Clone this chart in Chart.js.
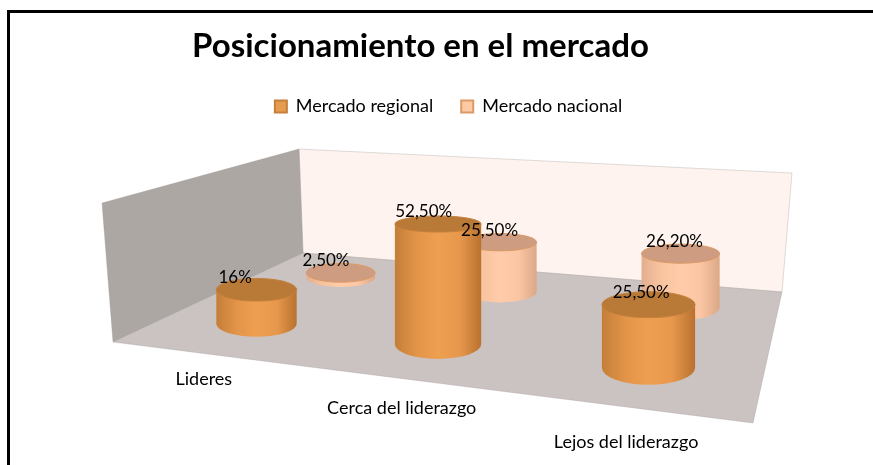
<!DOCTYPE html>
<html>
<head>
<meta charset="utf-8">
<title>Posicionamiento en el mercado</title>
<script src="https://cdn.jsdelivr.net/npm/chart.js@4"></script>
<style>
    html, body { margin: 0; padding: 0; background: #fff; }
    #frame { position: absolute; left: 7px; top: 10px; width: 866px; height: 455px; box-sizing: border-box;
             border-top: 3px solid #000; border-left: 3px solid #000; }
    #chart { position: absolute; left: 0; top: 0; }
</style>
</head>
<body>
<div id="frame"></div>
<canvas id="chart" width="873" height="465"></canvas>
<script>
const categories = ['Lideres', 'Cerca del liderazgo', 'Lejos del liderazgo'];
const regional = [16, 52.5, 25.5];
const nacional = [2.5, 25.5, 26.2];
const regionalLabels = ['16%', '52,50%', '25,50%'];
const nacionalLabels = ['2,50%', '25,50%', '26,20%'];

// The 3D box, screen corners
const leftWall = [[102, 203], [299, 149], [303, 253], [113, 342]];
const backWall = [[299, 149], [792, 173], [782, 292], [303, 253]];
const floor = [[113, 342], [753, 423], [782, 292], [303, 253]]; // front-left, front-right, back-right, back-left

const FONT = 'Lato, "Open Sans", sans-serif';
const HEIGHT_K = 0.405;     // chart units to floor scale
const RADIUS_DEPTH = 0.12;  // cylinder radius along the floor depth
const U_SHIFT = 0.006;
const LABEL_DEPTH = -0.19;
const labelShift = [52, 44, 23];

// Perspective mapping of the floor (unit square to quad)
function makeFloorMap(q) {
    const [[x0, y0], [x1, y1], [x2, y2], [x3, y3]] = q;
    const dx1 = x1 - x2, dx2 = x3 - x2, sx = x0 - x1 + x2 - x3;
    const dy1 = y1 - y2, dy2 = y3 - y2, sy = y0 - y1 + y2 - y3;
    const det = dx1 * dy2 - dx2 * dy1;
    const g = (sx * dy2 - dx2 * sy) / det;
    const h = (dx1 * sy - sx * dy1) / det;
    const a = x1 - x0 + g * x1, b = x3 - x0 + h * x3;
    const d = y1 - y0 + g * y1, e = y3 - y0 + h * y3;
    return (u, v) => {
        const w = g * u + h * v + 1;
        return { x: (a * u + b * v + x0) / w, y: (d * u + e * v + y0) / w, scale: 1 / w };
    };
}
const floorMap = makeFloorMap(floor);

function cylinderShape(chart, bar, depth) {
    const area = chart.chartArea;
    const u = (bar.x - area.left) / area.width + U_SHIFT;
    const p = floorMap(u, depth);
    const rx = bar.width / 2 * p.scale;
    const ry = (floorMap(u, depth - RADIUS_DEPTH).y - floorMap(u, depth + RADIUS_DEPTH).y) / 2;
    const h = (bar.base - bar.y) * HEIGHT_K * p.scale;
    return { u, x: p.x, baseY: p.y, topY: p.y - h, rx, ry, topRy: ry * (1 - h * 0.0038) };
}

class CylinderController extends Chart.BarController {
    draw() {
        const chart = this.chart, ctx = chart.ctx;
        const ds = this.getDataset();
        this.getMeta().data.forEach(bar => {
            const c = cylinderShape(chart, bar, ds.depth);
            const grad = ctx.createLinearGradient(c.x - c.rx, 0, c.x + c.rx, 0);
            ds.shades.forEach((col, i) => grad.addColorStop(i / (ds.shades.length - 1), col));

            ctx.save();
            ctx.beginPath();
            ctx.moveTo(c.x - c.rx, c.topY);
            ctx.lineTo(c.x - c.rx, c.baseY);
            ctx.ellipse(c.x, c.baseY, c.rx, c.ry, 0, Math.PI, 0, true);
            ctx.lineTo(c.x + c.rx, c.topY);
            ctx.closePath();
            ctx.fillStyle = grad;
            ctx.fill();

            ctx.beginPath();
            ctx.ellipse(c.x, c.topY, c.rx, c.topRy, 0, 0, Math.PI * 2);
            ctx.fillStyle = ds.topColor;
            ctx.fill();
            ctx.strokeStyle = ds.borderColor;
            ctx.lineWidth = 1;
            ctx.stroke();
            ctx.restore();
        });
    }
}
CylinderController.id = 'cylinder';
CylinderController.defaults = Chart.BarController.defaults;
Chart.register(CylinderController);

function fillPoly(ctx, pts, color) {
    ctx.beginPath();
    pts.forEach(([x, y], i) => i ? ctx.lineTo(x, y) : ctx.moveTo(x, y));
    ctx.closePath();
    ctx.fillStyle = color;
    ctx.fill();
    ctx.strokeStyle = 'rgba(150, 145, 142, 0.3)';
    ctx.lineWidth = 1;
    ctx.stroke();
}

const box3d = {
    id: 'box3d',
    afterLayout(chart) {
        // title and legend are not centred on the same line in the original
        chart.titleBlock.left -= 16;
        chart.titleBlock.right -= 16;
        chart.legend.left += 12;
        chart.legend.right += 12;
    },
    beforeDatasetsDraw(chart) {
        const ctx = chart.ctx;
        ctx.save();
        fillPoly(ctx, backWall, '#FEF3EE');
        fillPoly(ctx, leftWall, '#ADA7A4');
        fillPoly(ctx, floor, '#CBC3C2');
        ctx.restore();
    },
    afterDatasetsDraw(chart) {
        const ctx = chart.ctx, area = chart.chartArea, xScale = chart.scales.x;
        ctx.save();
        ctx.fillStyle = '#000';
        ctx.textAlign = 'center';
        ctx.textBaseline = 'middle';

        // value labels, they lean further left towards the left of the floor
        ctx.font = '17px ' + FONT;
        chart.data.datasets.forEach((ds, i) => {
            chart.getDatasetMeta(i).data.forEach((bar, j) => {
                const c = cylinderShape(chart, bar, ds.depth);
                const lean = (1 - c.u) * (25 - 16 * ds.depth) + 4;
                ctx.fillText(ds.valueLabels[j], c.x - lean, c.topY - 12);
            });
        });

        // category labels, along the front of the floor
        ctx.font = '18px ' + FONT;
        categories.forEach((name, j) => {
            const u = (xScale.getPixelForTick(j) - area.left) / area.width;
            const p = floorMap(u, LABEL_DEPTH);
            ctx.fillText(name, p.x + labelShift[j], p.y);
        });
        ctx.restore();
    }
};

new Chart(document.getElementById('chart'), {
    type: 'cylinder',
    data: {
        labels: categories,
        datasets: [{
            label: 'Mercado regional',
            data: regional,
            valueLabels: regionalLabels,
            depth: 0.25,
            grouped: false,
            backgroundColor: '#E69C4E',
            borderColor: '#C4803C',
            borderWidth: 2,
            topColor: '#B97A38',
            shades: ['#C47E38', '#E29448', '#EF9F50', '#E8984C', '#B8722F']
        }, {
            label: 'Mercado nacional',
            data: nacional,
            valueLabels: nacionalLabels,
            depth: 0.75,
            grouped: false,
            backgroundColor: '#FFC9A4',
            borderColor: '#DB9A66',
            borderWidth: 2,
            topColor: '#CE9C80',
            shades: ['#E3AE8E', '#F8C4A0', '#FFCBA8', '#FBC6A4', '#DBA888']
        }]
    },
    options: {
        responsive: false,
        animation: false,
        events: [],
        layout: { padding: { top: 20, bottom: 8 } },
        datasets: { cylinder: { barPercentage: 0.29, categoryPercentage: 1 } },
        scales: {
            x: { type: 'category', display: false, offset: true },
            y: { type: 'linear', display: false, min: 0, max: 60 }
        },
        plugins: {
            title: {
                display: true,
                text: 'Posicionamiento en el mercado',
                color: '#000',
                font: { family: FONT, size: 33, weight: 'bold' },
                padding: { top: 7, bottom: 3 }
            },
            legend: {
                position: 'top',
                labels: {
                    color: '#000',
                    font: { family: FONT, size: 18 },
                    boxWidth: 12,
                    boxHeight: 12,
                    padding: 28
                }
            },
            tooltip: { enabled: false }
        }
    },
    plugins: [box3d]
});
</script>
</body>
</html>
